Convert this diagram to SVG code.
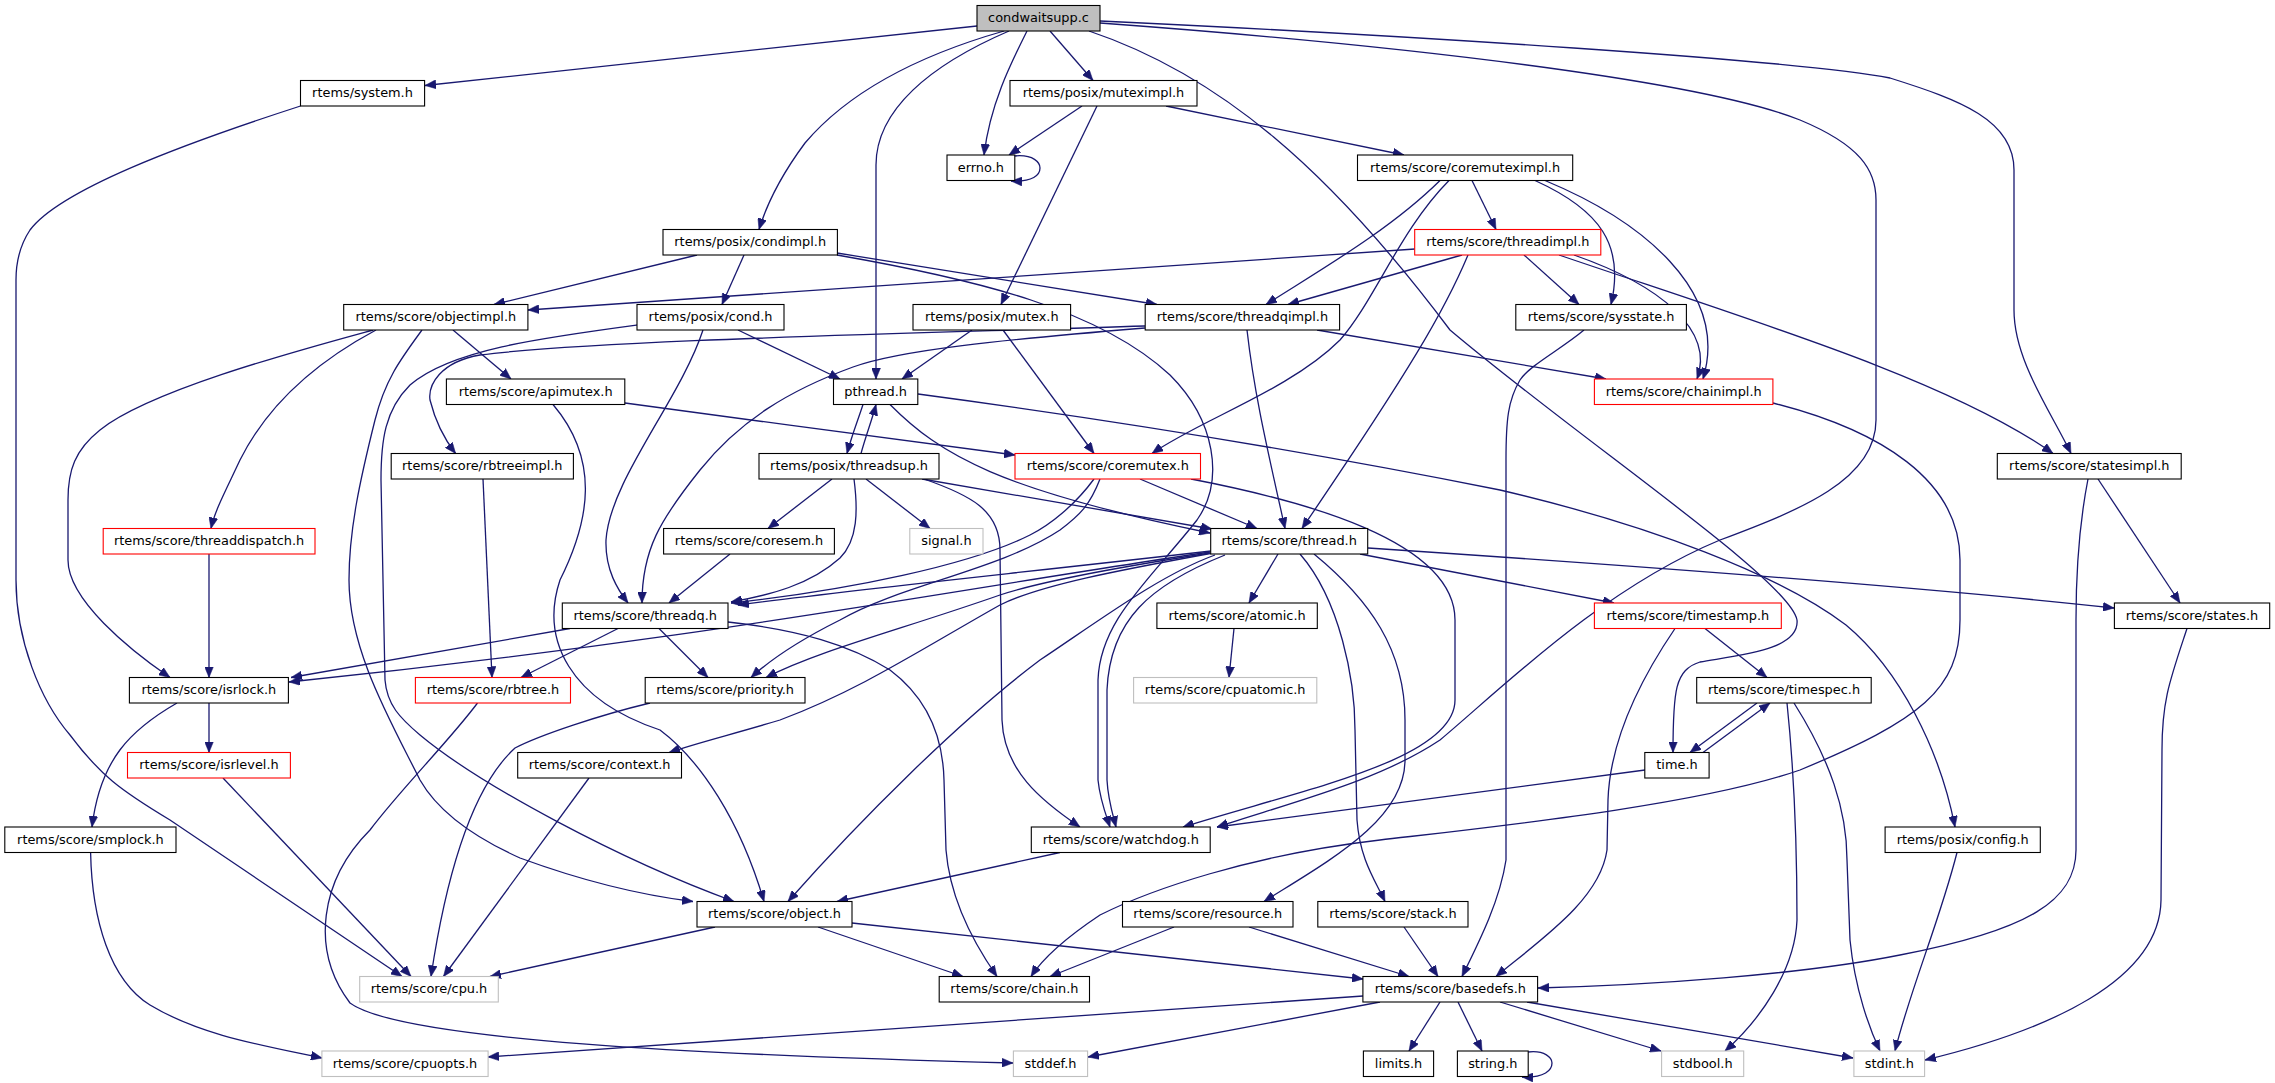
<svg xmlns="http://www.w3.org/2000/svg" width="2275" height="1083" viewBox="0 0 2275 1083">
<style>
rect{fill:#fff;stroke:#000;stroke-width:1.1}
.red rect{stroke:#ff0000}
.ext rect{stroke:#bfbfbf}
.root rect{fill:#bfbfbf}
text{font-family:"DejaVu Sans","Liberation Sans",sans-serif;font-size:12.9px;text-anchor:middle;fill:#000}
#edges path{fill:none;stroke:#191970;stroke-width:1.3;marker-end:url(#arr)}
</style>
<defs>
<marker id="arr" viewBox="0 0 11 9" refX="11" refY="4.5" markerWidth="11" markerHeight="9" markerUnits="userSpaceOnUse" orient="auto">
<path d="M0,0 L11,4.5 L0,9 z" fill="#191970" stroke="#191970" stroke-width="0.5"/>
</marker>
</defs>
<rect x="0" y="0" width="2275" height="1083" style="fill:#fff;stroke:none"/>
<g id="edges">
<path d="M977,26 L425,85.5"/>
<path d="M1004,31 C920,55 850,90 805,143 C785,170 768,200 759,229.5"/>
<path d="M1009,31 C930,65 876,110 876,165 L876,379"/>
<path d="M1027,31 C1010,65 990,105 984,155"/>
<path d="M1050,31 L1093,80.5"/>
<path d="M1089,31 C1220,75 1330,170 1450,330 C1580,440 1790,580 1797,620 C1800,650 1740,655 1700,662 C1675,670 1673,690 1673,752.5"/>
<path d="M1100,21 C1400,35 1800,60 1890,78 C1960,100 2014,120 2014,170 L2014,310 C2014,360 2050,410 2071,453.5"/>
<path d="M1100,23 C1400,45 1700,80 1800,120 C1860,145 1876,170 1876,200 L1876,420 C1876,480 1800,510 1720,540 C1600,590 1500,690 1440,740 C1380,780 1300,800 1217,827"/>
<path d="M1082,106 L1009,155"/>
<path d="M1097,106 L1001,304.5"/>
<path d="M1166,106 L1404,155"/>
<path d="M1014,156 C1034,154 1040,163 1040,168 C1040,175 1033,182 1011,181"/>
<path d="M1472,180.5 L1496,229.5"/>
<path d="M1440,180.5 C1390,230 1320,270 1266,304.5"/>
<path d="M1449,180.5 C1400,230 1375,300 1340,340 C1290,390 1200,420 1152,453.5"/>
<path d="M1535,180.5 C1600,210 1625,245 1611,304.5"/>
<path d="M1545,180.5 C1640,220 1730,290 1703,379"/>
<path d="M1415,249 C1100,268 800,290 528,310"/>
<path d="M1462,255 L1288,304.5"/>
<path d="M1468,255 C1445,310 1410,370 1302,528.5"/>
<path d="M1524,255 L1579,304.5"/>
<path d="M1574,255 C1660,285 1715,330 1697,379"/>
<path d="M1559,255 C1750,320 1950,380 2053,453.5"/>
<path d="M697,255 L494,304.5"/>
<path d="M744,255 L722,304.5"/>
<path d="M837,253 L1157,304.5"/>
<path d="M837,255 C980,280 1100,310 1170,375 C1215,420 1225,480 1197,520 C1150,580 1100,620 1098,680 L1098,780 C1100,800 1106,815 1110,827"/>
<path d="M703,330 C680,400 610,480 606,540 C605,570 618,590 628,603"/>
<path d="M738,330 L840,379"/>
<path d="M637,325 C540,338 450,350 410,385 C385,410 381,440 381,480 L385,680 C387,705 400,718 420,735 C480,785 620,860 734,901.5"/>
<path d="M373,330 C300,350 150,390 100,430 C75,450 68,470 68,500 L68,560 C68,600 130,650 170,677.5"/>
<path d="M376,330 C320,360 270,400 240,460 C226,490 215,510 211,528.5"/>
<path d="M422,330 C400,360 385,380 375,420 C360,480 349,530 349,580 C349,650 390,720 420,780 C440,815 480,840 520,858 C580,880 640,895 693,901.5"/>
<path d="M453,330 L511,379"/>
<path d="M1145,326 C900,334 600,340 480,355 C440,362 428,385 430,400 C435,420 445,440 455.6,453.5"/>
<path d="M972,330 L902,379"/>
<path d="M1003,330 L1094,453.5"/>
<path d="M1145,328 C1000,340 900,350 853,367 C790,390 740,420 700,470 C660,520 642,550 642,603"/>
<path d="M1247,330 C1255,400 1270,460 1285,528.5"/>
<path d="M1317,330 L1606,379"/>
<path d="M863,404.5 C858,420 852,435 847,453.5"/>
<path d="M861,453.5 C866,435 872,420 876,404.5"/>
<path d="M890,404.5 C940,455 1000,490 1210,533"/>
<path d="M918,394 C1150,425 1350,460 1500,490 C1650,525 1780,575 1846,625 C1900,670 1940,750 1955,827"/>
<path d="M832,479 L768,528.5"/>
<path d="M866,479 L930,528.5"/>
<path d="M922,479 L1212,529"/>
<path d="M854,479 C858,510 858,540 840,558 C810,585 770,595 731,602"/>
<path d="M924,479 C970,495 1000,510 1000,550 L1002,720 C1004,770 1040,800 1080,827"/>
<path d="M1140,479 L1257,528.5"/>
<path d="M1094,479 C1075,505 1050,525 1030,535 C970,565 850,590 731,603"/>
<path d="M1100,479 C1090,505 1080,515 1060,530 C1000,570 900,585 840,620 C800,640 770,660 751,677.5"/>
<path d="M1191,479 C1300,500 1455,540 1455,620 L1455,700 C1455,760 1300,790 1183,827"/>
<path d="M1211,551 C1000,575 850,590 738,605"/>
<path d="M1210,552 C950,590 700,640 289,682"/>
<path d="M1210,553 C1100,570 1030,585 1000,595 C900,630 820,650 766,677.5"/>
<path d="M1213,553 C1120,570 1040,585 1000,605 C920,650 860,690 780,720 C730,735 700,742 669,752.5"/>
<path d="M1215,555 C1160,575 1100,620 1040,660 C960,720 860,820 788,901.5"/>
<path d="M1225,555 C1150,585 1110,620 1107,690 L1107,780 C1108,800 1113,815 1116,827"/>
<path d="M1278,554 L1249,603"/>
<path d="M1300,554 C1340,600 1355,680 1355,730 L1357,820 C1360,860 1375,880 1385,901.5"/>
<path d="M1314,554 C1370,600 1405,650 1405,720 L1405,760 C1405,820 1330,860 1264,901.5"/>
<path d="M1360,554 L1614,603"/>
<path d="M1368,548 C1700,570 1950,590 2114,608"/>
<path d="M570,628.5 L291,677.5"/>
<path d="M618,628.5 L521,677.5"/>
<path d="M659,628.5 L708,677.5"/>
<path d="M728,622 C800,630 850,645 890,670 C930,700 943,740 944,780 L946,850 C950,900 975,945 997,976.5"/>
<path d="M730,554 L669,603"/>
<path d="M483,479 L492,677.5"/>
<path d="M625,403 C750,420 900,440 1015,455"/>
<path d="M553,404.5 C600,460 590,520 560,580 C540,640 570,700 660,730 C700,760 740,820 764,901.5"/>
<path d="M209,554 L209,677.5"/>
<path d="M209,703 L209,752.5"/>
<path d="M177,703 C130,730 100,760 92,827"/>
<path d="M223,778 L411,976.5"/>
<path d="M300.5,106 C180,145 60,190 30,230 C20,245 16,260 16,280 L16,580 C16,640 40,700 70,735 C100,775 120,790 170,820 L402,976.5"/>
<path d="M90.6,852.5 C92,920 110,980 150,1005 C200,1035 260,1045 322,1058"/>
<path d="M477.5,703 C450,740 400,790 370,830 C320,880 310,950 350,1003 C400,1040 700,1055 1013,1063"/>
<path d="M650,703 C600,715 540,735 515,748 C480,780 450,850 431,976.5"/>
<path d="M589,778 L443.5,976.5"/>
<path d="M1234,628.5 L1229,677.5"/>
<path d="M1705,628.5 L1767,677.5"/>
<path d="M1675,628.5 C1640,680 1610,740 1608,800 L1607,850 C1600,900 1540,940 1496,976.5"/>
<path d="M1757,703 L1690,752.5"/>
<path d="M1703,752.5 L1770,703"/>
<path d="M1787,703 C1795,780 1797,860 1797,920 C1795,970 1760,1020 1725,1051"/>
<path d="M1794,703 C1830,760 1847,810 1847,860 L1850,940 C1855,990 1870,1030 1880,1051"/>
<path d="M2098,479 L2180,603"/>
<path d="M2088,479 C2080,520 2076,560 2076,620 L2076,850 C2076,900 2030,930 1900,955 C1800,975 1650,985 1538,988"/>
<path d="M2187,628.5 C2170,680 2162,700 2162,750 L2161,900 C2160,980 2050,1030 1925,1060"/>
<path d="M1645,770 L1217,827"/>
<path d="M1957,852.5 C1940,920 1910,990 1895,1051"/>
<path d="M1060,852.5 L837,901.5"/>
<path d="M1773,403 C1880,430 1960,480 1960,560 L1960,620 C1960,690 1920,720 1800,770 C1700,805 1500,826 1380,840 C1250,855 1150,890 1100,915 C1070,935 1045,955 1031,976.5"/>
<path d="M1584,330 C1560,350 1530,365 1520,380 C1508,400 1506,420 1506,460 L1506,860 C1500,900 1480,940 1462,976.5"/>
<path d="M715,927 L490,976.5"/>
<path d="M818,927 L963,976.5"/>
<path d="M852,923 L1363,979"/>
<path d="M1174,927 L1050,976.5"/>
<path d="M1249,927 L1409,976.5"/>
<path d="M1404,927 L1438,976.5"/>
<path d="M1363,996 C1100,1015 800,1035 488,1057"/>
<path d="M1380,1002 L1088,1057"/>
<path d="M1440,1002 L1409,1051"/>
<path d="M1458,1002 L1482,1051"/>
<path d="M1500,1002 L1661,1051"/>
<path d="M1527,1002 L1853,1058"/>
<path d="M1528,1052 C1545,1050 1552,1058 1552,1063 C1552,1070 1545,1078 1522,1077"/>
</g>
<g id="n0" class="root"><rect x="977" y="5.5" width="123" height="25.5"/><text x="1038.5" y="22.3">condwaitsupp.c</text></g>
<g id="n1"><rect x="300.5" y="80.5" width="124.1" height="25.5"/><text x="362.5" y="97.3">rtems/system.h</text></g>
<g id="n2"><rect x="1010" y="80.5" width="187" height="25.5"/><text x="1103.5" y="97.3">rtems/posix/muteximpl.h</text></g>
<g id="n3"><rect x="947" y="155" width="67.8" height="25.5"/><text x="980.9" y="171.8">errno.h</text></g>
<g id="n4"><rect x="1357.5" y="155" width="215.2" height="25.5"/><text x="1465.1" y="171.8">rtems/score/coremuteximpl.h</text></g>
<g id="n5"><rect x="663" y="229.5" width="174.4" height="25.5"/><text x="750.2" y="246.3">rtems/posix/condimpl.h</text></g>
<g id="n6" class="red"><rect x="1414.7" y="229.5" width="186.1" height="25.5"/><text x="1507.8" y="246.3">rtems/score/threadimpl.h</text></g>
<g id="n7"><rect x="343.7" y="304.5" width="184.2" height="25.5"/><text x="435.8" y="321.3">rtems/score/objectimpl.h</text></g>
<g id="n8"><rect x="637" y="304.5" width="147" height="25.5"/><text x="710.5" y="321.3">rtems/posix/cond.h</text></g>
<g id="n9"><rect x="913" y="304.5" width="157.6" height="25.5"/><text x="991.8" y="321.3">rtems/posix/mutex.h</text></g>
<g id="n10"><rect x="1145.2" y="304.5" width="194.4" height="25.5"/><text x="1242.4" y="321.3">rtems/score/threadqimpl.h</text></g>
<g id="n11"><rect x="1515.8" y="304.5" width="170.6" height="25.5"/><text x="1601.1" y="321.3">rtems/score/sysstate.h</text></g>
<g id="n12"><rect x="446.4" y="379" width="178.4" height="25.5"/><text x="535.6" y="395.8">rtems/score/apimutex.h</text></g>
<g id="n13"><rect x="833.5" y="379" width="84.3" height="25.5"/><text x="875.7" y="395.8">pthread.h</text></g>
<g id="n14" class="red"><rect x="1594.4" y="379" width="178.5" height="25.5"/><text x="1683.7" y="395.8">rtems/score/chainimpl.h</text></g>
<g id="n15"><rect x="391.2" y="453.5" width="182.2" height="25.5"/><text x="482.3" y="470.3">rtems/score/rbtreeimpl.h</text></g>
<g id="n16"><rect x="759" y="453.5" width="180" height="25.5"/><text x="849" y="470.3">rtems/posix/threadsup.h</text></g>
<g id="n17" class="red"><rect x="1015" y="453.5" width="185.5" height="25.5"/><text x="1107.8" y="470.3">rtems/score/coremutex.h</text></g>
<g id="n18"><rect x="1997.3" y="453.5" width="183.9" height="25.5"/><text x="2089.3" y="470.3">rtems/score/statesimpl.h</text></g>
<g id="n19" class="red"><rect x="103.2" y="528.5" width="211.8" height="25.5"/><text x="209.1" y="545.3">rtems/score/threaddispatch.h</text></g>
<g id="n20"><rect x="663.6" y="528.5" width="170.8" height="25.5"/><text x="749" y="545.3">rtems/score/coresem.h</text></g>
<g id="n21" class="ext"><rect x="909.8" y="528.5" width="73.2" height="25.5"/><text x="946.4" y="545.3">signal.h</text></g>
<g id="n22"><rect x="1210.7" y="528.5" width="157" height="25.5"/><text x="1289.2" y="545.3">rtems/score/thread.h</text></g>
<g id="n23"><rect x="562.3" y="603" width="165.7" height="25.5"/><text x="645.2" y="619.8">rtems/score/threadq.h</text></g>
<g id="n24"><rect x="1156.9" y="603" width="160.4" height="25.5"/><text x="1237.1" y="619.8">rtems/score/atomic.h</text></g>
<g id="n25" class="red"><rect x="1594.4" y="603" width="186.9" height="25.5"/><text x="1687.9" y="619.8">rtems/score/timestamp.h</text></g>
<g id="n26"><rect x="2114.4" y="603" width="155.3" height="25.5"/><text x="2192" y="619.8">rtems/score/states.h</text></g>
<g id="n27"><rect x="129.4" y="677.5" width="159" height="25.5"/><text x="208.9" y="694.3">rtems/score/isrlock.h</text></g>
<g id="n28" class="red"><rect x="415.4" y="677.5" width="155.1" height="25.5"/><text x="493" y="694.3">rtems/score/rbtree.h</text></g>
<g id="n29"><rect x="645.2" y="677.5" width="159.8" height="25.5"/><text x="725.1" y="694.3">rtems/score/priority.h</text></g>
<g id="n30" class="ext"><rect x="1133.6" y="677.5" width="183.2" height="25.5"/><text x="1225.2" y="694.3">rtems/score/cpuatomic.h</text></g>
<g id="n31"><rect x="1696.7" y="677.5" width="174.5" height="25.5"/><text x="1784" y="694.3">rtems/score/timespec.h</text></g>
<g id="n32" class="red"><rect x="127.5" y="752.5" width="162.9" height="25.5"/><text x="209" y="769.3">rtems/score/isrlevel.h</text></g>
<g id="n33"><rect x="517.7" y="752.5" width="163.8" height="25.5"/><text x="599.6" y="769.3">rtems/score/context.h</text></g>
<g id="n34"><rect x="1644.8" y="752.5" width="64.3" height="25.5"/><text x="1677" y="769.3">time.h</text></g>
<g id="n35"><rect x="4.8" y="827" width="171.2" height="25.5"/><text x="90.4" y="843.8">rtems/score/smplock.h</text></g>
<g id="n36"><rect x="1031.3" y="827" width="178.9" height="25.5"/><text x="1120.8" y="843.8">rtems/score/watchdog.h</text></g>
<g id="n37"><rect x="1885.1" y="827" width="155.2" height="25.5"/><text x="1962.7" y="843.8">rtems/posix/config.h</text></g>
<g id="n38"><rect x="697" y="901.5" width="155" height="25.5"/><text x="774.5" y="918.3">rtems/score/object.h</text></g>
<g id="n39"><rect x="1122.5" y="901.5" width="170.5" height="25.5"/><text x="1207.8" y="918.3">rtems/score/resource.h</text></g>
<g id="n40"><rect x="1317.8" y="901.5" width="150.2" height="25.5"/><text x="1392.9" y="918.3">rtems/score/stack.h</text></g>
<g id="n41" class="ext"><rect x="359.7" y="976.5" width="138.6" height="25.5"/><text x="429" y="993.3">rtems/score/cpu.h</text></g>
<g id="n42"><rect x="939.2" y="976.5" width="150.3" height="25.5"/><text x="1014.4" y="993.3">rtems/score/chain.h</text></g>
<g id="n43"><rect x="1362.9" y="976.5" width="174.7" height="25.5"/><text x="1450.3" y="993.3">rtems/score/basedefs.h</text></g>
<g id="n44" class="ext"><rect x="321.9" y="1051" width="166.2" height="25.5"/><text x="405" y="1067.8">rtems/score/cpuopts.h</text></g>
<g id="n45" class="ext"><rect x="1013.4" y="1051" width="74.2" height="25.5"/><text x="1050.5" y="1067.8">stddef.h</text></g>
<g id="n46"><rect x="1363.4" y="1051" width="70.2" height="25.5"/><text x="1398.5" y="1067.8">limits.h</text></g>
<g id="n47"><rect x="1457.4" y="1051" width="70.8" height="25.5"/><text x="1492.8" y="1067.8">string.h</text></g>
<g id="n48" class="ext"><rect x="1661.6" y="1051" width="82.1" height="25.5"/><text x="1702.7" y="1067.8">stdbool.h</text></g>
<g id="n49" class="ext"><rect x="1853.9" y="1051" width="70.7" height="25.5"/><text x="1889.3" y="1067.8">stdint.h</text></g>
</svg>
